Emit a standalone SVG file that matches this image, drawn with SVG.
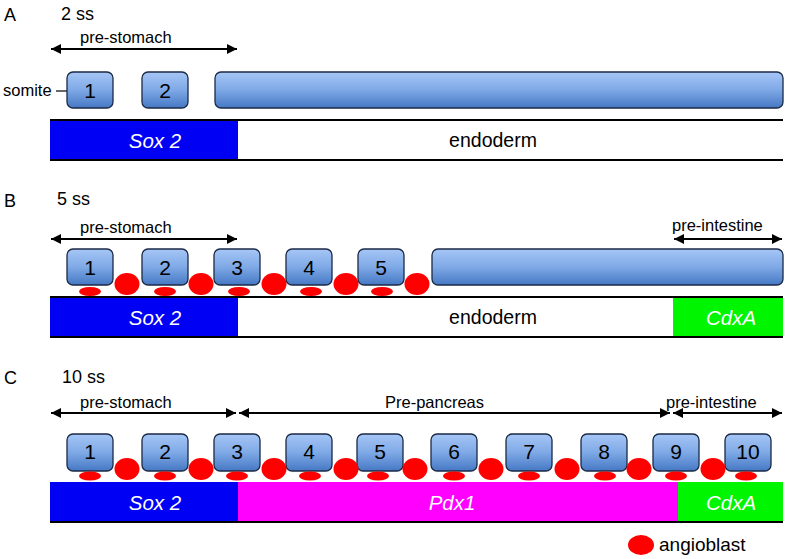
<svg xmlns="http://www.w3.org/2000/svg" width="787" height="559" viewBox="0 0 787 559">
<defs>
<linearGradient id="sg" x1="0" y1="0" x2="0" y2="1">
<stop offset="0" stop-color="#a6c6f6"/>
<stop offset="0.5" stop-color="#7fa9e6"/>
<stop offset="1" stop-color="#4578c4"/>
</linearGradient>
<marker id="ah" viewBox="0 0 10 10" refX="10" refY="5" markerWidth="5" markerHeight="5" orient="auto-start-reverse" markerUnits="strokeWidth">
<path d="M0,0 L10,5 L0,10 z" fill="#000"/>
</marker>
<style>
text{font-family:"Liberation Sans",Arial,sans-serif;fill:#000}
.som{fill:url(#sg);stroke:#1b2a45;stroke-width:1.3}
.dig{font-size:21px;text-anchor:middle}
.lbl{font-size:16.5px}
.pl{font-size:18px}
.gene{font-size:20.5px;font-style:italic;fill:#fff;text-anchor:middle}
.endo{font-size:19.5px;text-anchor:middle}
.arr{stroke:#000;stroke-width:2;fill:none;marker-start:url(#ah);marker-end:url(#ah)}
.bl{stroke:#000;stroke-width:2}
.ang{fill:#f00}
</style>
</defs>

<!-- Panel labels -->
<text x="4" y="21" class="pl">A</text>
<text x="61" y="20" class="pl">2 ss</text>
<text x="4" y="207" class="pl">B</text>
<text x="57" y="205" class="pl">5 ss</text>
<text x="4" y="384" class="pl">C</text>
<text x="62" y="383" class="pl">10 ss</text>

<g id="connectors">
<line class="arr" x1="51" y1="49" x2="237" y2="49"/>
<line class="arr" x1="51" y1="239" x2="237" y2="239"/>
<line class="arr" x1="674" y1="239" x2="782" y2="239"/>
<line class="arr" x1="51" y1="413" x2="236" y2="413"/>
<line class="arr" x1="239" y1="413" x2="670" y2="413"/>
<line class="arr" x1="673" y1="413" x2="782" y2="413"/>
<line x1="56" y1="91" x2="76" y2="91" stroke="#000" stroke-width="1.2"/>
</g>

<!-- Region labels -->
<g id="labels">
<text x="80" y="43" class="lbl">pre-stomach</text>
<text x="80" y="233" class="lbl">pre-stomach</text>
<text x="672" y="231" class="lbl">pre-intestine</text>
<text x="80" y="408" class="lbl">pre-stomach</text>
<text x="385" y="408" class="lbl">Pre-pancreas</text>
<text x="666" y="408" class="lbl">pre-intestine</text>
<text x="3" y="96" class="lbl">somite</text>
</g>

<!-- Panel A -->
<g id="A-somites">
<rect class="som" x="67" y="72" width="46" height="36" rx="6"/>
<text x="90" y="98" class="dig">1</text>
<rect class="som" x="142" y="72" width="46" height="36" rx="6"/>
<text x="165" y="98" class="dig">2</text>
<rect class="som" x="215" y="72" width="568" height="36" rx="6"/>
</g>
<g id="A-bar">
<rect x="50" y="120" width="188" height="40" fill="#0000f5"/>
<line class="bl" x1="50" y1="120" x2="783" y2="120"/>
<line class="bl" x1="50" y1="160" x2="783" y2="160"/>
<text x="155" y="148" class="gene">Sox 2</text>
<text x="493" y="147" class="endo">endoderm</text>
</g>

<!-- Panel B -->
<g id="B-somites">
<rect class="som" x="67" y="249" width="46" height="36" rx="6"/>
<text x="90" y="275" class="dig">1</text>
<rect class="som" x="142" y="249" width="46" height="36" rx="6"/>
<text x="165" y="275" class="dig">2</text>
<rect class="som" x="214" y="249" width="46" height="36" rx="6"/>
<text x="237" y="275" class="dig">3</text>
<rect class="som" x="286" y="249" width="46" height="36" rx="6"/>
<text x="309" y="275" class="dig">4</text>
<rect class="som" x="358" y="249" width="46" height="36" rx="6"/>
<text x="381" y="275" class="dig">5</text>
<rect class="som" x="432" y="249" width="351" height="36" rx="6"/>
</g>
<g id="B-angioblasts">
<ellipse class="ang" cx="127" cy="284" rx="12.5" ry="11"/>
<ellipse class="ang" cx="201" cy="284" rx="12.5" ry="11"/>
<ellipse class="ang" cx="274" cy="284" rx="12.5" ry="11"/>
<ellipse class="ang" cx="346" cy="284" rx="12.5" ry="11"/>
<ellipse class="ang" cx="417" cy="284" rx="12.5" ry="11"/>
<ellipse class="ang" cx="90" cy="291.5" rx="11" ry="4.5"/>
<ellipse class="ang" cx="165" cy="291.5" rx="11" ry="4.5"/>
<ellipse class="ang" cx="239" cy="291.5" rx="11" ry="4.5"/>
<ellipse class="ang" cx="311" cy="291.5" rx="11" ry="4.5"/>
<ellipse class="ang" cx="382" cy="291.5" rx="11" ry="4.5"/>
</g>
<g id="B-bar">
<rect x="50" y="297" width="188" height="40" fill="#0000f5"/>
<rect x="673" y="297" width="110" height="40" fill="#00f500"/>
<line class="bl" x1="50" y1="297" x2="783" y2="297"/>
<line class="bl" x1="50" y1="337" x2="783" y2="337"/>
<text x="155" y="325" class="gene">Sox 2</text>
<text x="493" y="324" class="endo">endoderm</text>
<text x="731" y="325" class="gene">CdxA</text>
</g>

<!-- Panel C -->
<g id="C-somites">
<rect class="som" x="67" y="434" width="46" height="37" rx="6"/>
<text x="90" y="459" class="dig">1</text>
<rect class="som" x="142" y="434" width="46" height="37" rx="6"/>
<text x="165" y="459" class="dig">2</text>
<rect class="som" x="214" y="434" width="46" height="37" rx="6"/>
<text x="237" y="459" class="dig">3</text>
<rect class="som" x="286" y="434" width="46" height="37" rx="6"/>
<text x="309" y="459" class="dig">4</text>
<rect class="som" x="357" y="434" width="46" height="37" rx="6"/>
<text x="380" y="459" class="dig">5</text>
<rect class="som" x="431" y="434" width="46" height="37" rx="6"/>
<text x="454" y="459" class="dig">6</text>
<rect class="som" x="506" y="434" width="46" height="37" rx="6"/>
<text x="529" y="459" class="dig">7</text>
<rect class="som" x="581" y="434" width="46" height="37" rx="6"/>
<text x="604" y="459" class="dig">8</text>
<rect class="som" x="653" y="434" width="46" height="37" rx="6"/>
<text x="676" y="459" class="dig">9</text>
<rect class="som" x="725" y="434" width="46" height="37" rx="6"/>
<text x="748" y="459" class="dig">10</text>
</g>
<g id="C-angioblasts">
<ellipse class="ang" cx="127" cy="469" rx="12.5" ry="11"/>
<ellipse class="ang" cx="201" cy="469" rx="12.5" ry="11"/>
<ellipse class="ang" cx="274" cy="469" rx="12.5" ry="11"/>
<ellipse class="ang" cx="346" cy="469" rx="12.5" ry="11"/>
<ellipse class="ang" cx="415" cy="469" rx="12.5" ry="11"/>
<ellipse class="ang" cx="491" cy="469" rx="12.5" ry="11"/>
<ellipse class="ang" cx="567" cy="469" rx="12.5" ry="11"/>
<ellipse class="ang" cx="639" cy="469" rx="12.5" ry="11"/>
<ellipse class="ang" cx="713" cy="469" rx="12.5" ry="11"/>
<ellipse class="ang" cx="90" cy="476" rx="11" ry="4.5"/>
<ellipse class="ang" cx="165" cy="476" rx="11" ry="4.5"/>
<ellipse class="ang" cx="237" cy="476" rx="11" ry="4.5"/>
<ellipse class="ang" cx="310" cy="476" rx="11" ry="4.5"/>
<ellipse class="ang" cx="378" cy="476" rx="11" ry="4.5"/>
<ellipse class="ang" cx="454" cy="476" rx="11" ry="4.5"/>
<ellipse class="ang" cx="529" cy="476" rx="11" ry="4.5"/>
<ellipse class="ang" cx="605" cy="476" rx="11" ry="4.5"/>
<ellipse class="ang" cx="676" cy="476" rx="11" ry="4.5"/>
<ellipse class="ang" cx="746" cy="476" rx="11" ry="4.5"/>
</g>
<g id="C-bar">
<rect x="50" y="482" width="188" height="40" fill="#0000f5"/>
<rect x="238" y="482" width="440" height="40" fill="#ff00ff"/>
<rect x="678" y="482" width="105" height="40" fill="#00f500"/>
<line class="bl" x1="50" y1="522" x2="783" y2="522"/>
<text x="155" y="510" class="gene">Sox 2</text>
<text x="452" y="510" class="gene">Pdx1</text>
<text x="731" y="510" class="gene">CdxA</text>
</g>

<!-- Legend -->
<g id="legend">
<ellipse class="ang" cx="641" cy="545" rx="13" ry="10"/>
<text x="659" y="551" style="font-size:19px">angioblast</text>
</g>
</svg>
